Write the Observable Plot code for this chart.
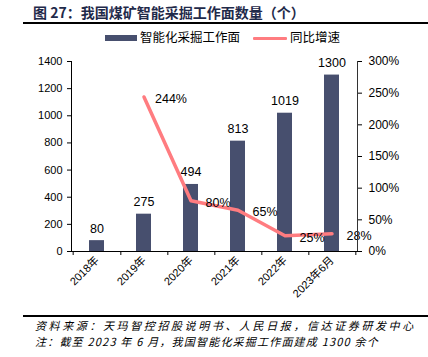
<!DOCTYPE html>
<html><head><meta charset="utf-8">
<script src="https://cdn.jsdelivr.net/npm/d3@7"></script>
<script src="https://cdn.jsdelivr.net/npm/@observablehq/plot@0.6"></script>
<style>
body{margin:0;width:428px;height:357px;position:relative;background:#fff;font-family:"Liberation Sans","Noto Sans CJK SC",sans-serif;overflow:hidden}
#title{position:absolute;left:33px;top:3px;font-weight:bold;font-size:14px;line-height:18px;font-family:"Noto Sans CJK SC",sans-serif;color:#1f2a4a;white-space:nowrap}
.hr{position:absolute;left:23px;right:0;height:2px;background:#000}
#legend{position:absolute;top:30px;left:0;width:428px;height:16px;font-size:12.5px;font-family:"Liberation Sans","Noto Sans CJK SC",sans-serif;color:#000}
.sw{position:absolute}
.lt{position:absolute;top:0;line-height:16px;white-space:nowrap}
#chart{position:absolute;left:0;top:45px}
.foot{position:absolute;left:35px;font-size:11px;line-height:15px;font-style:italic;font-family:"Noto Sans CJK SC",sans-serif;white-space:nowrap;color:#000}
</style>
</head><body>
<div id="title">图 27：我国煤矿智能采掘工作面数量（个）</div>
<div class="hr" style="top:22px"></div>
<div id="legend">
  <div class="sw" style="left:105px;top:5px;width:32px;height:6px;background:#474f6e"></div>
  <div class="lt" style="left:140px">智能化采掘工作面</div>
  <div class="sw" style="left:253px;top:7px;width:34px;height:3px;background:#ff7c80;border-radius:1px"></div>
  <div class="lt" style="left:290px">同比增速</div>
</div>
<div id="chart"></div>
<div class="hr" style="top:315px"></div>
<div class="foot" style="top:318px;letter-spacing:2.6px">资料来源：天玛智控招股说明书、人民日报，信达证券研发中心</div>
<div class="foot" style="top:334px;letter-spacing:1.2px">注：截至 2023 年 6 月，我国智能化采掘工作面建成 1300 余个</div>
<script>
const categories = ["2018年","2019年","2020年","2021年","2022年","2023年6月"];
const counts = [80, 275, 494, 813, 1019, 1300];
const growth = [null, 244, 80, 65, 25, 28];
const leftTicks = [0, 200, 400, 600, 800, 1000, 1200, 1400];
const rightTicks = [0, 50, 100, 150, 200, 250, 300];

const k = 1400 / 300;
const data = categories.map((c, i) => ({cat: c, count: counts[i], g: growth[i]}));
const lineData = data.filter(d => d.g != null);

const W = 428, H = 270, mL = 71, mR = 71, mT = 16, mB = 64;
const step = (W - mL - mR) / categories.length;

const chart = Plot.plot({
  width: W, height: H,
  marginTop: mT, marginBottom: mB, marginLeft: mL, marginRight: mR,
  style: {fontFamily: '"Liberation Sans","Noto Sans CJK SC",sans-serif', fontSize: "11px", color: "#000", background: "transparent"},
  x: {domain: categories, paddingInner: 0.68, paddingOuter: 0.34},
  y: {domain: [0, 1400]},
  marks: [
    Plot.barY(data, {x: "cat", y: "count", fill: "#474f6e"}),
    Plot.text(data, {x: "cat", y: "count", text: d => String(d.count), dy: -12, fontSize: 12.5, fill: "#000"}),
    Plot.line(lineData, {x: "cat", y: d => d.g * k, stroke: "#ff7c80", strokeWidth: 3.5}),
    Plot.text(lineData, {x: "cat", y: d => d.g * k, text: d => d.g + "%", dx: 27, dy: 2, fontSize: 12.5, fill: "#000"}),
    Plot.axisY({ticks: leftTicks, tickFormat: d => String(d), tickSize: 4, tickPadding: 5, label: null, fontSize: 11}),
    Plot.axisY({anchor: "right", ticks: rightTicks.map(p => p * k), tickFormat: v => Math.round(v / k) + "%", tickSize: 4, tickPadding: 7, label: null, fontSize: 12}),
    Plot.axisX({tickSize: 0, tickRotate: -45, tickPadding: 7, label: null, fontSize: 11}),
    Plot.frame({anchor: "left", stroke: "#000"}),
    Plot.frame({anchor: "right", stroke: "#333"}),
    Plot.frame({anchor: "bottom", stroke: "#000"}),
    Plot.ruleX(categories, {x: d => d, y1: 0, y2: 0, dx: step / 2, insetBottom: -4, stroke: "#000"}),
    Plot.ruleX([categories[0]], {x: d => d, y1: 0, y2: 0, dx: -step / 2, insetBottom: -4, stroke: "#000"})
  ]
});
document.getElementById("chart").appendChild(chart);
</script>
</body></html>
